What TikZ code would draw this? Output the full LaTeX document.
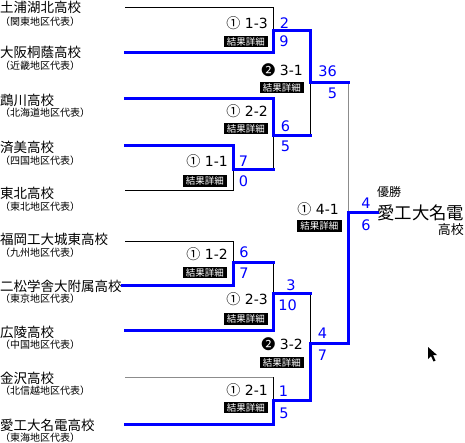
\documentclass[tikz,border=0pt]{standalone}
\usepackage{fontspec}
\setmainfont{DejaVu Sans}
\newfontfamily\jp{Noto Sans CJK JP}
\tikzset{
  loseline/.style={line width=1pt, draw=black},
  grayline/.style={line width=1pt, draw=black!45},
  winline/.style={line width=3pt, draw=blue, line join=miter, line cap=rect},
  teamname/.style={anchor=west, inner sep=0pt, font=\jp\fontsize{13.5}{14}\selectfont},
  region/.style={anchor=west, inner sep=0pt, font=\jp\fontsize{10}{11}\selectfont},
  score/.style={anchor=base, inner sep=0pt, text=blue, font=\fontsize{14.5}{15}\selectfont},
  matchlbl/.style={anchor=base east, inner sep=0pt, font=\fontsize{14}{15}\selectfont},
  detail/.style={anchor=east, fill=black, text=white, inner xsep=0pt, inner ysep=0pt,
    minimum width=44pt, minimum height=11.5pt, font=\jp\fontsize{9.5}{10}\selectfont},
}
\begin{document}
\begin{tikzpicture}[x=1pt,y=-1pt]
\useasboundingbox (0,0) rectangle (465,442);
% team line starts
\coordinate (a1) at (125,7);
\coordinate (a2) at (125,52);
\coordinate (a3) at (125,98);
\coordinate (a4) at (125,145);
\coordinate (a5) at (125,190);
\coordinate (a6) at (125,241);
\coordinate (a7) at (122,285);
\coordinate (a8) at (125,330);
\coordinate (a9) at (125,377);
\coordinate (a10) at (125,424);
% bracket points
\coordinate (b1) at (273,7);
\coordinate (b2) at (273,52);
\coordinate (c13) at (273,30);
\coordinate (d13) at (310,30);
\coordinate (b4) at (233,145);
\coordinate (b5) at (233,190);
\coordinate (c11) at (233,169);
\coordinate (d11) at (273,169);
\coordinate (b3) at (273,98);
\coordinate (c22) at (273,135);
\coordinate (d22) at (310,135);
\coordinate (c31) at (310,82);
\coordinate (d31) at (348,82);
\coordinate (b6) at (233,241);
\coordinate (b7) at (233,285);
\coordinate (c12) at (233,262);
\coordinate (d12) at (273,262);
\coordinate (b8) at (273,330);
\coordinate (c23) at (273,293);
\coordinate (d23) at (310,293);
\coordinate (b9) at (273,377);
\coordinate (b10) at (273,424);
\coordinate (c21) at (273,400);
\coordinate (d21) at (310,400);
\coordinate (c32) at (310,343);
\coordinate (d32) at (348,343);
\coordinate (cf) at (348,212);
\coordinate (df) at (377,212);
% losing lines
\draw[loseline] (a1) -- (b1) -- (c13);
\draw[loseline] (a5) -- (b5) -- (c11);
\draw[loseline] (d11) -- (c22);
\draw[loseline] (d22) -- (c31);
\draw[loseline] (a6) -- (b6) -- (c12);
\draw[loseline] (d12) -- (c23);
\draw[loseline] (d23) -- (c32);
\draw[loseline] (b9) -- (c21);
\draw[grayline] (a9) -- (b9);
\draw[grayline] (d31) -- (cf);
% winning lines
\draw[winline] (a2) -- (b2) -- (c13) -- (d13) -- (c31) -- (d31);
\draw[winline] (a3) -- (b3) -- (c22) -- (d22);
\draw[winline] (a4) -- (b4) -- (c11) -- (d11);
\draw[winline] (a7) -- (b7) -- (c12) -- (d12);
\draw[winline] (a8) -- (b8) -- (c23) -- (d23);
\draw[winline] (a10) -- (b10) -- (c21) -- (d21) -- (c32) -- (d32) -- (cf) -- (df);
% team names
\node[teamname] (n1) at (0,7.5) {土浦湖北高校};
\node[region] (r1) at (0,22) {（関東地区代表）};
\node[teamname] (n2) at (0,52.5) {大阪桐蔭高校};
\node[region] (r2) at (0,66) {（近畿地区代表）};
\node[teamname] (n3) at (0,100.5) {鵡川高校};
\node[region] (r3) at (0,113) {（北海道地区代表）};
\node[teamname] (n4) at (0,147.5) {済美高校};
\node[region] (r4) at (0,161) {（四国地区代表）};
\node[teamname] (n5) at (0,193.5) {東北高校};
\node[region] (r5) at (0,206.5) {（東北地区代表）};
\node[teamname] (n6) at (0,239) {福岡工大城東高校};
\node[region] (r6) at (0,252.5) {（九州地区代表）};
\node[teamname] (n7) at (0,286) {二松学舎大附属高校};
\node[region] (r7) at (0,299) {（東京地区代表）};
\node[teamname] (n8) at (0,332.5) {広陵高校};
\node[region] (r8) at (0,344.5) {（中国地区代表）};
\node[teamname] (n9) at (0,378.5) {金沢高校};
\node[region] (r9) at (0,391) {（北信越地区代表）};
\node[teamname] (n10) at (0,425) {愛工大名電高校};
\node[region] (r10) at (0,437.5) {（東海地区代表）};
% match labels
\node[matchlbl] (l13) at (268,28) {{\jp ①} 1-3};
\node[detail] (k13) at (268,41.5) {結果詳細};
\node[matchlbl] (l31) at (303,75) {{\jp ❷} 3-1};
\node[detail] (k31) at (304,87.5) {結果詳細};
\node[matchlbl] (l22) at (268,116.5) {{\jp ①} 2-2};
\node[detail] (k22) at (268,128.5) {結果詳細};
\node[matchlbl] (l11) at (228,166.5) {{\jp ①} 1-1};
\node[detail] (k11) at (227,181) {結果詳細};
\node[matchlbl] (l41) at (339,214.5) {{\jp ①} 4-1};
\node[detail, minimum width=45pt] (k41) at (342,226) {結果詳細};
\node[matchlbl] (l12) at (228,259.5) {{\jp ①} 1-2};
\node[detail] (k12) at (227,272.5) {結果詳細};
\node[matchlbl] (l23) at (268,304.5) {{\jp ①} 2-3};
\node[detail] (k23) at (268,319) {結果詳細};
\node[matchlbl] (l32) at (303,349) {{\jp ❷} 3-2};
\node[detail] (k32) at (304,362.5) {結果詳細};
\node[matchlbl] (l21) at (268,395.5) {{\jp ①} 2-1};
\node[detail] (k21) at (268,407.5) {結果詳細};
% scores
\node[score] (s13a) at (284.5,28.3) {2};
\node[score] (s13b) at (284,46.7) {9};
\node[score] (s31a) at (327.5,76.7) {36};
\node[score] (s31b) at (332.5,98) {5};
\node[score] (s22a) at (285.5,131.5) {6};
\node[score] (s22b) at (285.5,151.5) {5};
\node[score] (s11a) at (243.5,166.5) {7};
\node[score] (s11b) at (243.5,186.5) {0};
\node[score] (s12a) at (244,257.3) {6};
\node[score] (s12b) at (244,278) {7};
\node[score] (s23a) at (291,290) {3};
\node[score] (s23b) at (287.5,310) {10};
\node[score] (s32a) at (322.5,338) {4};
\node[score] (s32b) at (322.5,360) {7};
\node[score] (s21a) at (283.5,396.5) {1};
\node[score] (s21b) at (284,418) {5};
\node[score] (sfa) at (366,208) {4};
\node[score] (sfb) at (366,230) {6};
% champion
\node[anchor=west, inner sep=0pt, font=\jp\fontsize{12}{12}\selectfont] (yusho) at (377,192) {優勝};
\node[anchor=west, inner sep=0pt, font=\jp\fontsize{17.4}{18}\selectfont] (champ) at (377,212.5) {愛工大名電};
\node[anchor=east, inner sep=0pt, font=\jp\fontsize{13}{13}\selectfont] (champ2) at (464,230) {高校};
% mouse pointer
\fill[black] (428,347) -- (428,359) -- (431,356) -- (433.5,361.5) -- (435.5,360.5) -- (433,355) -- (437,355) -- cycle;
\end{tikzpicture}
\end{document}
